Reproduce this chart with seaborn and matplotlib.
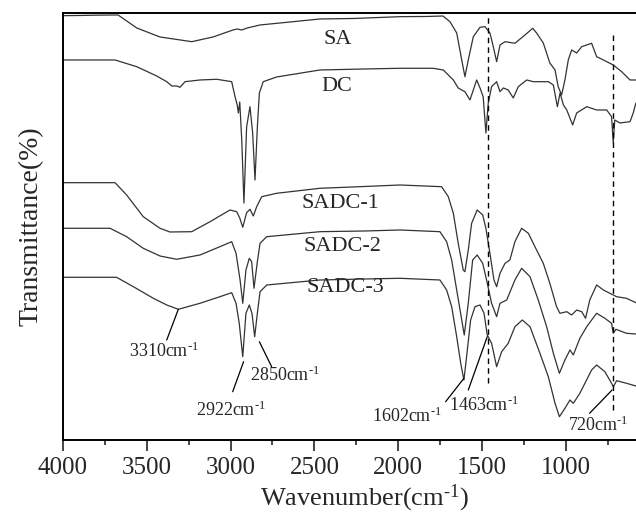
import numpy as np
import pandas as pd
import matplotlib
matplotlib.use("Agg")
import matplotlib.pyplot as plt
import seaborn as sns

# ---------------- data (wavenumber cm-1, offset transmittance a.u.) ----------------
sa_wn = [4000, 3900, 3800, 3670, 3559, 3420, 3231, 3104, 2985, 2960, 2933, 2900, 2824, 2627,
         2467, 2264, 1990, 1829, 1734, 1692, 1652, 1622, 1603, 1583, 1553, 1513, 1483, 1454,
         1434, 1414, 1394, 1364, 1305, 1245, 1199, 1176, 1136, 1097, 1066, 1047, 1027, 1007,
         987, 967, 937, 907, 848, 818, 778, 719, 669, 619, 584, 500, 400]
sa_t = [424.3, 424.5, 424.8, 425, 412, 403, 398.3, 403, 410, 411, 410, 412, 415, 418.3,
        421, 421.5, 423.3, 423.5, 424, 418.3, 407, 380, 363.3, 380, 403.3, 412.7, 413.3, 407,
        393.3, 378.3, 395, 398.3, 396.7, 405, 411.7, 407, 397, 377, 370, 353.3, 345, 360,
        380, 390, 387, 393.3, 396.7, 383.3, 380, 375, 368.3, 360, 360, 360, 360]

dc_wn = [4000, 3900, 3800, 3688, 3559, 3440, 3380, 3350, 3321, 3301, 3271, 3182, 3082, 2993,
         2973, 2960, 2953, 2945, 2933, 2920, 2904, 2884, 2868, 2854, 2840, 2828, 2805, 2725,
         2467, 2200, 1990, 1793, 1732, 1672, 1643, 1622, 1603, 1573, 1553, 1533, 1513, 1494,
         1478, 1464, 1444, 1414, 1394, 1374, 1345, 1315, 1285, 1235, 1196, 1156, 1106, 1076,
         1052, 1036, 1016, 996, 961, 937, 877, 818, 758, 729, 719, 710, 680, 619, 600, 584,
         500, 400]
dc_t = [380, 380, 380, 380, 373.3, 364, 358.3, 354, 354, 352.7, 358.3, 360, 360.7, 358.3,
        343.3, 335, 327, 338, 300, 237, 313, 333.3, 307, 260, 313, 347, 358.3, 363,
        370, 371, 371.7, 371.7, 370, 360, 352, 350, 348.3, 340, 350, 360, 352, 343,
        307, 337, 353.3, 358.3, 348.3, 352, 350, 342, 353.3, 360, 358.3, 358.3, 358.3, 355,
        333.3, 347, 335, 330, 315, 327, 333.3, 330, 330, 323.3, 297, 320, 317, 318.3, 327, 337,
        340, 340]

s1_wn = [4000, 3900, 3800, 3688, 3619, 3520, 3420, 3361, 3231, 3122, 3003, 2963, 2945, 2927,
         2904, 2884, 2864, 2844, 2814, 2725, 2467, 2200, 1990, 1742, 1702, 1672, 1643, 1613,
         1603, 1583, 1563, 1530, 1497, 1478, 1454, 1430, 1414, 1394, 1364, 1335, 1305, 1265,
         1225, 1176, 1136, 1097, 1057, 1037, 996, 967, 937, 907, 884, 859, 818, 778, 739, 699,
         640, 584, 500, 400]
s1_t = [257.3, 257.3, 257.3, 257.3, 245, 223.3, 211.7, 208, 208.3, 218.3, 230, 228.3, 222, 212.7,
        227.3, 230.7, 224, 233.3, 243.3, 246.7, 251.7, 253.5, 255, 253.3, 243.3, 226.7, 196.7, 170,
        168.3, 190, 216.7, 230, 225, 211.7, 186.7, 160, 153.3, 166.7, 176.7, 180, 198.3, 211.7,
        206.7, 190, 176.7, 156.7, 133.3, 126.7, 128.3, 125, 130, 128.3, 121.7, 140, 155, 150, 146.7, 143.3,
        141.7, 137.3, 135, 135]

s2_wn = [4000, 3900, 3800, 3718, 3619, 3520, 3420, 3321, 3182, 3063, 2993, 2967, 2943, 2927,
         2908, 2888, 2874, 2860, 2840, 2824, 2784, 2467, 2200, 1990, 1752, 1712, 1682, 1652,
         1622, 1607, 1583, 1557, 1530, 1497, 1474, 1444, 1414, 1394, 1354, 1305, 1265, 1215,
         1166, 1116, 1076, 1040, 1007, 977, 957, 918, 877, 848, 818, 769, 729, 719, 703, 640,
         584, 500, 400]
s2_t = [211.7, 211.7, 211.7, 211.7, 203.3, 191.7, 184, 180.7, 185, 193.3, 198.3, 186.7, 160, 136.7,
        170, 181.7, 178.3, 151.7, 178.3, 196.7, 203.3, 208.3, 209, 210, 208.3, 198.3, 180, 150,
        120, 105, 136.7, 180, 185, 176.7, 160, 136.7, 123.3, 136.7, 140, 160, 171.7, 163.3,
        140, 113.3, 86.7, 66.7, 80, 90, 85, 101.7, 113.3, 120, 126.7, 121.7, 116.7, 106.7, 110.7, 106.7,
        106, 106, 106]

s3_wn = [4000, 3900, 3800, 3679, 3579, 3460, 3380, 3311, 3182, 3063, 2993, 2967, 2948, 2927,
         2908, 2888, 2872, 2856, 2840, 2824, 2784, 2467, 2200, 1990, 1752, 1712, 1682, 1652,
         1628, 1609, 1593, 1569, 1543, 1513, 1489, 1470, 1444, 1414, 1384, 1345, 1305, 1261,
         1215, 1156, 1106, 1066, 1040, 1007, 977, 957, 918, 868, 848, 818, 769, 729, 719, 699,
         640, 584, 500, 400]
s3_t = [162.7, 162.7, 162.7, 162.7, 153.3, 141.7, 135, 130.7, 136.7, 143.3, 147.3, 136.7, 116.7, 83.3,
        126.7, 135, 126.7, 103.3, 126.7, 148.3, 155, 160, 161, 161.7, 160, 150, 133.3, 103.3,
        76.7, 60, 83.3, 120, 133.3, 135, 126.7, 105, 96.7, 73.3, 88.3, 96.7, 113.3, 120,
        113.3, 86.7, 63.3, 36.7, 23.3, 31.7, 40, 36.7, 46.7, 63.3, 70, 75, 68.3, 56.7, 53.3, 59.3,
        56.7, 54, 54, 54]

series_names = ["SA", "DC", "SADC-1", "SADC-2", "SADC-3"]
label_wn = [2359, 2365, 2342, 2330, 2318]
label_t = [400, 353, 236, 193.3, 152]

SUP = "$^{\u2010 1}$"
peak_text = ["3310cm" + SUP, "2922cm" + SUP, "2850cm" + SUP, "1602cm" + SUP, "1463cm" + SUP, "720cm" + SUP]
peak_xy = [(3311, 130.7), (2922, 78.3), (2828, 98.3), (1609, 61.7), (1470, 103.3), (726, 50)]
peak_line_end = [(3380, 100), (2987, 48.3), (2755, 73.3), (1718, 38.3), (1583, 50), (860, 26.7)]
peak_text_xy = [(3396, 88.3), (2997, 30), (2675, 65), (1948, 23.3), (1491, 35), (808, 15)]

dash_wn = [1463, 720]
dash_top = [423, 408.3]
dash_bottom = [56.7, 30]

xticks = [4000, 3500, 3000, 2500, 2000, 1500, 1000]

# ---------------- plotting ----------------
sns.set_theme(style="white")
plt.rcParams["font.family"] = ["Liberation Serif", "DejaVu Serif"]
plt.rcParams["mathtext.default"] = "regular"

frames = []
for name, w, t in zip(series_names, [sa_wn, dc_wn, s1_wn, s2_wn, s3_wn], [sa_t, dc_t, s1_t, s2_t, s3_t]):
    frames.append(pd.DataFrame({"wn": w, "t": t, "sample": name}))
df = pd.concat(frames, ignore_index=True)

fig = plt.figure(figsize=(6.36, 5.13), dpi=100)
ax = fig.add_axes([0.0986, 0.1423, 0.9498, 0.8326])

sns.lineplot(data=df, x="wn", y="t", units="sample", estimator=None, color="#333333",
             linewidth=0.9, ax=ax, legend=False)

for w, top, bot in zip(dash_wn, dash_top, dash_bottom):
    ax.plot([w, w], [bot, top], ls=(0, (4, 3)), color="black", lw=1.0)

for name, lx, ly in zip(series_names, label_wn, label_t):
    ax.text(lx, ly, name, ha="center", va="center", fontsize=16)

for txt, p, e, tp in zip(peak_text, peak_xy, peak_line_end, peak_text_xy):
    ax.plot([p[0], e[0]], [p[1], e[1]], color="black", lw=0.9)
    ax.text(tp[0], tp[1], txt, ha="center", va="center", fontsize=13)

ax.set_xlim(4000, 400)
ax.set_ylim(0, 427.1)
ax.set_xticks(xticks)
ax.set_xticklabels([str(v) for v in xticks], fontsize=18)
ax.set_xticks(np.arange(3750, 600, -500), minor=True)
ax.set_yticks([])
ax.tick_params(axis="x", which="major", direction="out", length=8, width=1.2, bottom=True, pad=4)
ax.tick_params(axis="x", which="minor", direction="out", length=3.5, width=1.2, bottom=True)
for s in ax.spines.values():
    s.set_linewidth(1.4)
    s.set_color("black")
ax.set_xlabel("Wavenumber(cm" + SUP + ")", fontsize=19, labelpad=3)
ax.set_ylabel("Transmittance(%)", fontsize=20, labelpad=14)

fig.savefig("out.png", dpi=100)
